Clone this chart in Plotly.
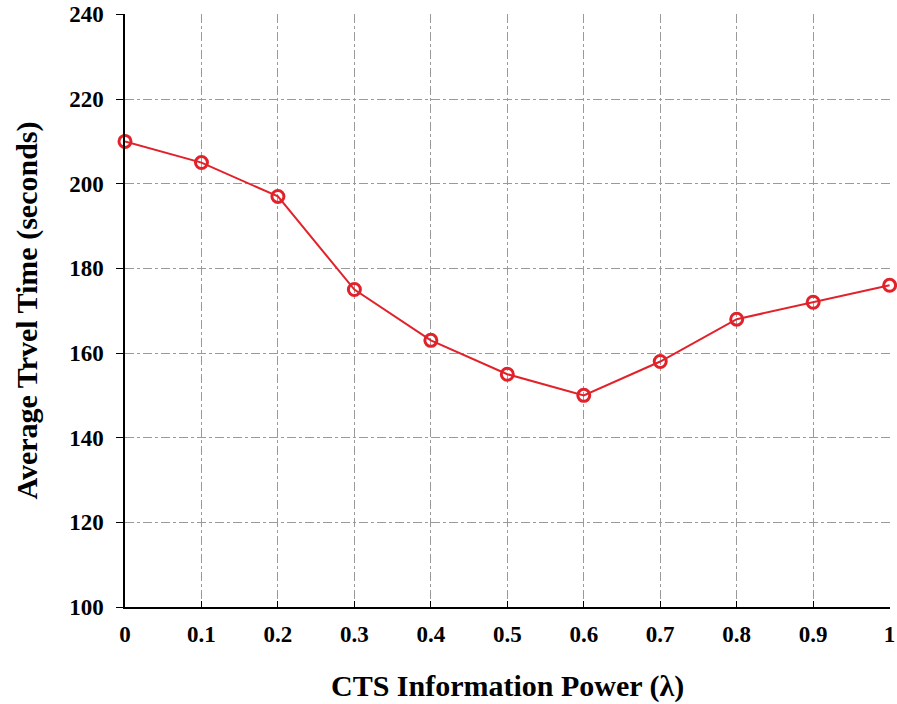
import plotly.graph_objects as go

x_vals = [0, 0.1, 0.2, 0.3, 0.4, 0.5, 0.6, 0.7, 0.8, 0.9, 1]
travel_time = [210, 205, 197, 175, 163, 155, 150, 158, 168, 172, 176]
x_tick_labels = ["0", "0.1", "0.2", "0.3", "0.4", "0.5", "0.6", "0.7", "0.8", "0.9", "1"]
y_ticks = [100, 120, 140, 160, 180, 200, 220, 240]

fig = go.Figure()
fig.add_trace(go.Scatter(
    x=x_vals, y=travel_time, mode="lines+markers",
    line=dict(color="#e2222a", width=2),
    marker=dict(symbol="circle-open", size=12, color="#e2222a", line=dict(width=3, color="#e2222a")),
    showlegend=False, cliponaxis=False,
))

font = dict(family="Liberation Serif, Times New Roman, serif", color="black")
fig.update_layout(
    width=897, height=704,
    margin=dict(l=125, r=7, t=14, b=97),
    paper_bgcolor="white", plot_bgcolor="white",
    font=font,
    xaxis=dict(
        range=[0, 1.0005], tickvals=x_vals, ticktext=["<b>%s</b>" % t for t in x_tick_labels],
        showline=True, linecolor="black", linewidth=1.5,
        ticks="inside", ticklen=6, tickcolor="black", ticklabelstandoff=6,
        showgrid=True, gridcolor="#9a9a9a", griddash="dashdot", gridwidth=1,
        tickfont=dict(size=23, **font), zeroline=False, automargin=False,
        ticklabeloverflow="allow",
    ),
    yaxis=dict(
        range=[100, 240.1], tickvals=y_ticks, ticktext=["<b>%d</b>" % v for v in y_ticks],
        showline=True, linecolor="black", linewidth=1.5,
        ticks="outside", ticklen=7, tickcolor="black", ticklabelstandoff=8,
        showgrid=True, gridcolor="#9a9a9a", griddash="dashdot", gridwidth=1,
        tickfont=dict(size=23, **font), zeroline=False, automargin=False,
        ticklabeloverflow="allow",
    ),
    annotations=[
        dict(text="<b>CTS Information Power (λ)</b>", xref="paper", yref="paper",
             x=0.5, y=0, yshift=-79, xanchor="center", yanchor="middle",
             showarrow=False, font=dict(size=30, **font)),
        dict(text="<b>Average Trvel Time (seconds)</b>", xref="paper", yref="paper",
             x=0, y=0.5, xshift=-99, xanchor="center", yanchor="middle", textangle=-90,
             showarrow=False, font=dict(size=30, **font)),
    ],
)
fig.write_html("out.html", config={"displayModeBar": False},
               post_script="document.body.style.margin='0';")
